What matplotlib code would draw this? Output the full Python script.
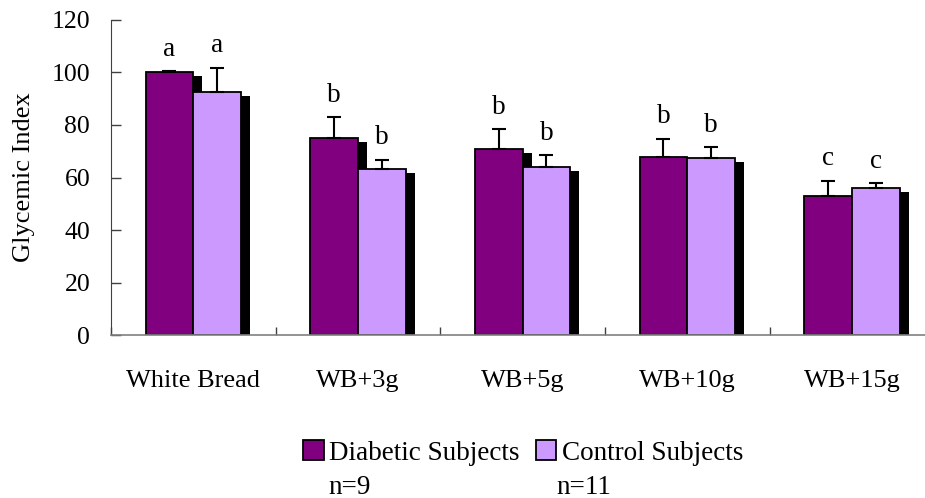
import numpy as np
import matplotlib
matplotlib.use('Agg')
from matplotlib import pyplot as plt
import matplotlib.patheffects as pe
from matplotlib.patches import Patch

plt.rcParams['font.family'] = ['Liberation Serif', 'DejaVu Serif']

categories = ['White Bread', 'WB+3g', 'WB+5g', 'WB+10g', 'WB+15g']
diabetic = [100.2, 75.0, 70.8, 67.8, 52.8]
diabetic_top = [100.6, 83.0, 78.5, 74.8, 58.8]
control = [92.6, 63.3, 64.2, 67.4, 56.0]
control_top = [101.8, 66.8, 68.4, 71.6, 57.9]
diabetic_letters = ['a', 'b', 'b', 'b', 'c']
control_letters = ['a', 'b', 'b', 'b', 'c']
series_names = ['Diabetic Subjects', 'Control Subjects']
series_n = ['n=9', 'n=11']

PURPLE = '#800080'
LILAC = '#CC99FF'

fig = plt.figure(figsize=(9.25, 4.98), dpi=100)
ax = fig.add_axes([0.12, 0.327, 0.89, 0.633])

x = np.arange(len(categories))
w = 0.29
shadow = [pe.SimplePatchShadow(offset=(6.5, -3), shadow_rgbFace='black', alpha=1.0),
          pe.Normal()]

for xs, vals, tops, letters, color in [
        (x - w / 2, diabetic, diabetic_top, diabetic_letters, PURPLE),
        (x + w / 2, control, control_top, control_letters, LILAC)]:
    bars = ax.bar(xs, vals, width=w, color=color, edgecolor='black',
                  linewidth=1.3, zorder=2)
    for b in bars:
        b.set_path_effects(shadow)
    lo = np.zeros(len(vals))
    hi = np.array(tops) - np.array(vals)
    ax.errorbar(xs, vals, yerr=[lo, hi], fmt='none', ecolor='black',
                elinewidth=1.5, capsize=5, capthick=1.5, zorder=3)
    for xi, t, s in zip(xs, tops, letters):
        ax.annotate(s, (xi, t), xytext=(0, 11), textcoords='offset points',
                    ha='center', va='baseline', fontsize=19.5)

ax.set_xlim(-0.5, len(categories) - 0.5)
ax.set_ylim(0, 120)
ax.set_yticks(np.arange(0, 121, 20))
ax.set_xticks(x)
ax.set_xticklabels(categories)
ax.set_xticks(np.arange(-0.5, len(categories), 1.0), minor=True)
ax.tick_params(axis='x', which='major', length=0, pad=25, labelsize=19)
ax.tick_params(axis='x', which='minor', direction='in', length=6,
               width=1, color='#404040')
ax.tick_params(axis='y', direction='in', length=7, width=1,
               color='#404040', pad=15, labelsize=18.5)
ax.set_ylabel('Glycemic Index', fontsize=19, labelpad=12)

for side in ['top', 'right']:
    ax.spines[side].set_visible(False)
ax.spines['left'].set_color('#404040')
ax.spines['bottom'].set_color('#808080')
ax.spines['bottom'].set_linewidth(1.2)

handles = [Patch(facecolor=PURPLE, edgecolor='black', linewidth=1.3),
           Patch(facecolor=LILAC, edgecolor='black', linewidth=1.3)]
fig.legend(handles, series_names, loc='center left',
           bbox_to_anchor=(0.328, 0.09), ncol=2, frameon=False, fontsize=19.5,
           handlelength=0.75, handleheight=0.75, handletextpad=0.2,
           columnspacing=0.6, borderpad=0, borderaxespad=0)
for xt, s in zip([0.355, 0.602], series_n):
    fig.text(xt, 0.022, s, fontsize=19.5, ha='left', va='center')

fig.savefig('out.png', dpi=100)
